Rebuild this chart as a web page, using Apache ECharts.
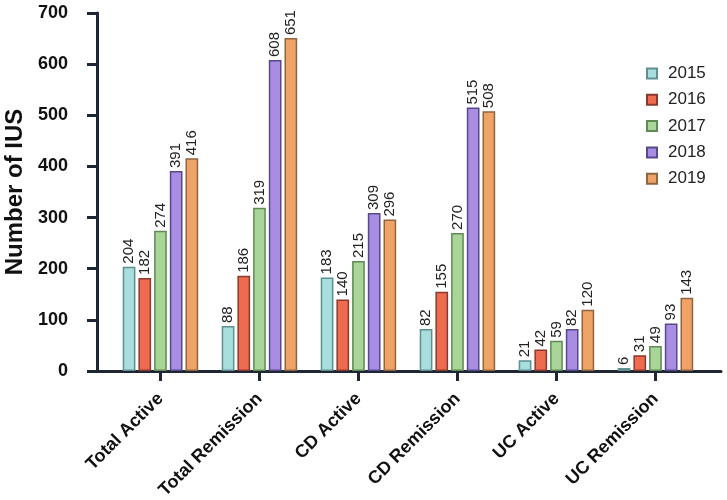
<!DOCTYPE html>
<html>
<head>
<meta charset="utf-8">
<script src="https://cdn.jsdelivr.net/npm/echarts@6/dist/echarts.min.js"></script>
<style>html,body{margin:0;padding:0;background:#fff}#c{width:727px;height:500px}</style>
</head>
<body>
<div id="c"></div>
<script>
const categories = ['Total Active', 'Total Remission', 'CD Active', 'CD Remission', 'UC Active', 'UC Remission'];
const years = ['2015', '2016', '2017', '2018', '2019'];
const v2015 = [204, 88, 183, 82, 21, 6];
const v2016 = [182, 186, 140, 155, 42, 31];
const v2017 = [274, 319, 215, 270, 59, 49];
const v2018 = [391, 608, 309, 515, 82, 93];
const v2019 = [416, 651, 296, 508, 120, 143];
const yTicks = [0, 100, 200, 300, 400, 500, 600, 700];

const values = [v2015, v2016, v2017, v2018, v2019];
const fills = ['#a9dedf', '#ef6b50', '#a9d598', '#a98de3', '#f0a366'];
const borders = ['#5f8f8f', '#8a3a2c', '#5f8a55', '#54498a', '#8f6440'];
const FONT = '"Liberation Sans", Arial, sans-serif';
const axisColor = '#1e2633';
const catIdx = categories.map((c, i) => i);

const chart = echarts.init(document.getElementById('c'), null, {renderer: 'canvas'});
chart.setOption({
  animation: false,
  backgroundColor: '#fff',
  textStyle: {fontFamily: FONT},
  grid: {left: 97, right: 6, top: 13, bottom: 129, containLabel: false, outerBoundsMode: 'none'},
  legend: {
    orient: 'vertical', left: 641, top: 60,
    itemWidth: 10, itemHeight: 10, itemGap: 9.3,
    icon: 'rect',
    textStyle: {fontSize: 17, color: '#222', fontFamily: FONT, padding: [0, 0, 0, 6]},
    data: years
  },
  xAxis: {
    type: 'value', min: -0.641, max: 5.662,
    axisLine: {show: true, onZero: false, lineStyle: {color: axisColor, width: 3}},
    axisTick: {show: true, customValues: catIdx, length: 10, lineStyle: {color: axisColor, width: 3}},
    axisLabel: {
      customValues: catIdx,
      formatter: v => categories[Math.round(v)],
      rotate: 45, margin: 25, fontSize: 18, fontWeight: 'bold', color: '#111', fontFamily: FONT
    },
    splitLine: {show: false}
  },
  yAxis: {
    type: 'value', min: 0, max: 700, interval: 100,
    name: 'Number of IUS', nameLocation: 'middle', nameGap: 65,
    nameTextStyle: {fontSize: 24, fontWeight: 'bold', color: '#111', fontFamily: FONT},
    axisLine: {show: true, onZero: false, lineStyle: {color: axisColor, width: 3}},
    axisTick: {show: true, length: 10, lineStyle: {color: axisColor, width: 3}},
    axisLabel: {
      customValues: yTicks,
      margin: 29, fontSize: 18, fontWeight: 'bold', color: '#111', fontFamily: FONT
    },
    splitLine: {show: false}
  },
  series: years.map((y, k) => ({
    name: y,
    type: 'bar',
    barWidth: 12.7,
    barGap: '23.6%',
    itemStyle: {color: fills[k], borderColor: borders[k], borderWidth: 1.5},
    label: {
      show: true, position: 'top', rotate: 90, align: 'left', verticalAlign: 'middle',
      distance: 3, fontSize: 15, color: '#222', fontFamily: FONT
    },
    data: values[k].map((v, i) => [i, v])
  }))
});
</script>
</body>
</html>
